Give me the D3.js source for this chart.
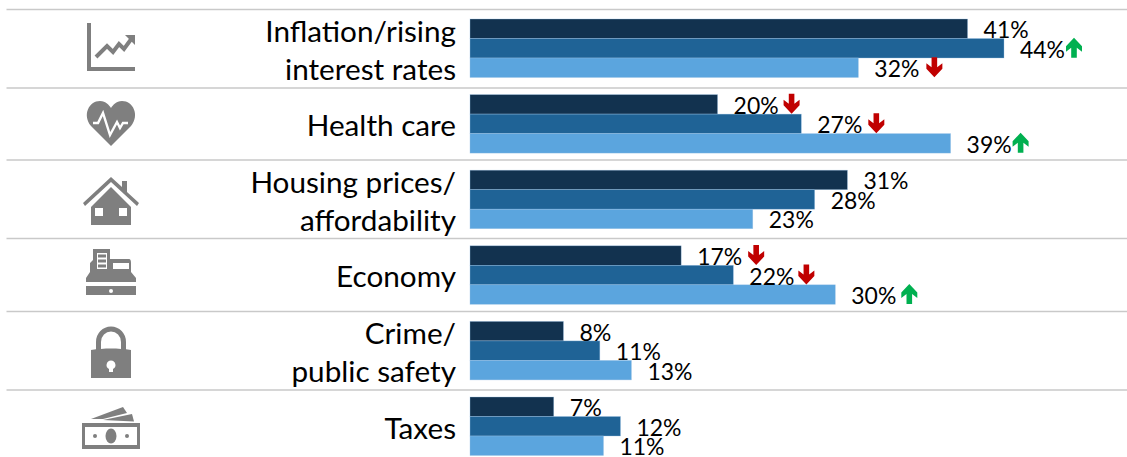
<!DOCTYPE html>
<html><head><meta charset="utf-8">
<script src="https://cdnjs.cloudflare.com/ajax/libs/d3/7.8.5/d3.min.js"></script>
<style>html,body{margin:0;padding:0;background:#fff}svg{display:block}text{font-family:Lato,"Open Sans",sans-serif;fill:#000}</style>
</head><body><div id="c"></div>
<script>
const categories = [["Inflation/rising","interest rates"],["Health care"],["Housing prices/","affordability"],["Economy"],["Crime/","public safety"],["Taxes"]];
const seriesDark  = [41.0,20.4,31.1,17.4,7.7,6.9];
const seriesMid   = [44.0,27.3,28.4,21.7,10.7,12.4];
const seriesLight = [32.0,39.6,23.3,30.1,13.3,11.0];
const labelsDark  = ["41%","20%","31%","17%","8%","7%"];
const labelsMid   = ["44%","27%","28%","22%","11%","12%"];
const labelsLight = ["32%","39%","23%","30%","13%","11%"];
const trendDark  = [0,-1,0,-1,0,0];
const trendMid   = [1,-1,0,-1,0,0];
const trendLight = [-1,1,0,1,0,0];
const colors = ["#12324f","#1f6396","#5ba5de"];
const icons = ["chart","heart","house","register","lock","money"];

const W=1127,H=457;
const svg=d3.select("#c").append("svg").attr("width",W).attr("height",H);
const x=d3.scaleLinear().domain([0,44]).range([470,1004]);
const y=d3.scaleBand().domain(d3.range(6)).range([19,19+75.6*6]).paddingInner(0).paddingOuter(0);
const inner=d3.scaleBand().domain([0,1,2]).range([0,58.5]);
const seps=[9.5,88,160,238.5,311.5,390];
svg.selectAll("line.s").data(seps).join("line").attr("x1",6.5).attr("x2",W).attr("y1",d=>d).attr("y2",d=>d).attr("stroke","#c9c9c9").attr("stroke-width",1.4);

const series=[[seriesDark,labelsDark,trendDark],[seriesMid,labelsMid,trendMid],[seriesLight,labelsLight,trendLight]];
const labelW=45;
const gap={ "0-1":1,"0-2":7,"1-0":5,"1-1":6,"1-2":1,"3-0":6,"3-1":4,"3-2":5 };
const arrow="M-2.8,-10 L2.8,-10 L2.8,0 L8,-4 L8,1.5 L0,10 L-8,1.5 L-8,-4 L-2.8,0 Z";
series.forEach((s,si)=>{
  const g=svg.append("g");
  const cy=i=>y(i)+inner(si);
  g.selectAll("rect").data(s[0]).join("rect").attr("x",x(0)).attr("y",(d,i)=>cy(i)).attr("width",d=>x(d)-x(0)).attr("height",inner.bandwidth()).attr("fill",colors[si]).attr("stroke","#9dc3e6").attr("stroke-opacity",0.6).attr("stroke-width",0.6);
});
series.forEach((s,si)=>{
  const g=svg.append("g");
  const cy=i=>y(i)+inner(si);
  s[1].forEach((t,i)=>{
    const lx=x(s[0][i])+16;
    g.append("text").attr("x",lx).attr("y",cy(i)+inner.bandwidth()/2+9.5).attr("font-size",24).attr("textLength",t.length==3?45:32).attr("lengthAdjust","spacingAndGlyphs").text(t);
    if(s[2][i]){
      const ax=lx+labelW+gap[i+"-"+si]+8;
      g.append("path").attr("d",arrow).attr("transform",`translate(${ax},${cy(i)+inner.bandwidth()/2-0.5}) scale(1,${s[2][i]<0?1:-1})`).attr("fill",s[2][i]<0?"#c00000":"#00b050");
    }
  });
});
const cat=svg.append("g");
categories.forEach((c,i)=>{
  const mid=y(i)+29.5;
  c.forEach((l,j)=>{
    cat.append("text").attr("x",456).attr("text-anchor","end").attr("font-size",29.7).attr("y",mid+(c.length==1?12:(j==0?-7:31.5))).text(l);
  });
});
const G="#7f7f7f";
const ic=svg.append("g").attr("fill",G);
function draw(name,cx,cy){
  const g=ic.append("g").attr("transform",`translate(${cx},${cy})`);
  if(name=="chart"){
    g.append("path").attr("d","M-24,-25 h4 v44 h44 v4 h-48 z");
    g.append("path").attr("d","M-15,9 L-4,-2 L2,4 L8,-4 L13,1 L21,-10").attr("fill","none").attr("stroke",G).attr("stroke-width",4);
    g.append("path").attr("d","M14,-13 L24,-13 L24,-3 Z");
  } else if(name=="heart"){
    g.append("path").attr("d","M0,22 L-20,2 C-29,-9 -22,-23 -11,-23 C-5,-23 -2,-19 0,-16 C2,-19 5,-23 11,-23 C22,-23 29,-9 20,2 Z");
    g.append("path").attr("d","M-18,-1 H-13 L-8,-11 L-1,11 L6,-2 L9,4 L12,-1 H17").attr("fill","none").attr("stroke","#fff").attr("stroke-width",2.4);
  } else if(name=="house"){
    g.append("path").attr("d","M-28,3 L0,-23 L11,-13 V-19 H16 V-8 L28,3 L26,6 L0,-18 L-26,6 Z");
    g.append("path").attr("fill-rule","evenodd").attr("d","M-20,7 L0,-13 L20,7 V25 H-20 Z M-16,8 V16 H-8 V8 Z M8,8 V16 H16 V8 Z");
  } else if(name=="register"){
    g.append("path").attr("d","M-18,-26 H-1 V-16 H18 Q20,-16 20,-12 V-3 L25,3 V7 H-25 V3 L-21,-3 V-12 L-18,-15 Z");
    g.append("rect").attr("x",-14).attr("y",-22).attr("width",10).attr("height",16).attr("fill","#fff");
    g.append("path").attr("d","M-13,-20.5 h8 v3 h-8 z M-13,-15.5 h8 v3 h-8 z M-13,-10.5 h8 v3 h-8 z");
    g.append("rect").attr("x",2).attr("y",-12).attr("width",16).attr("height",6).attr("fill","#fff");
    g.append("rect").attr("x",-25).attr("y",11).attr("width",50).attr("height",9);
    g.append("circle").attr("cx",0).attr("cy",16).attr("r",2).attr("fill","#fff");
  } else if(name=="lock"){
    g.append("path").attr("d","M-12.5,-3 V-13 A12.5,13 0 0 1 12.5,-13 V-3").attr("fill","none").attr("stroke",G).attr("stroke-width",5);
    g.append("path").attr("fill-rule","evenodd").attr("d","M-20,-5 C-7,-7 7,-7 20,-5 V23 H-20 Z M0,5.5 a4.5,4.5 0 0 0 -2,8.5 V17 H2 V14 A4.5,4.5 0 0 0 0,5.5 Z");
  } else if(name=="money"){
    g.append("path").attr("d","M-20,-4 L12,-16 L16,-10 L-8,-4 Z");
    g.append("path").attr("d","M-8,-3 L21,-9 L23,-1.5 Z");
    g.append("path").attr("fill-rule","evenodd").attr("d","M-29,0 H29 V26 H-29 Z M-26,4 V22 H26 V4 Z");
    g.append("ellipse").attr("cx",0).attr("cy",13).attr("rx",5.5).attr("ry",7.5);
    g.append("circle").attr("cx",-16).attr("cy",13).attr("r",2);
    g.append("circle").attr("cx",16).attr("cy",13).attr("r",2);
  }
}
const iconC=[[111,48],[111,124],[111,200],[111,275],[111,355],[111,423]];
icons.forEach((n,i)=>draw(n,iconC[i][0],iconC[i][1]));
</script></body></html>
